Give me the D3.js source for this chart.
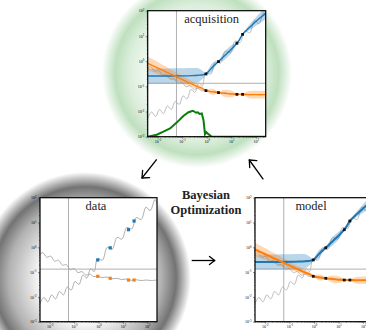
<!DOCTYPE html>
<html>
<head>
<meta charset="utf-8">
<script src="https://cdn.jsdelivr.net/npm/d3@7"></script>
<style>
  body { margin: 0; background: #fff; }
  svg { display: block; }
</style>
</head>
<body>
<svg id="chart" width="366" height="330"></svg>
<script>
// all values are log10 exponents
const xTicks = [-2, -1, 0, 1, 2];
const yTicks = [-3, -2, -1, 0, 1, 2];
const xRefLog = -1.23;
const yRefLog = -0.88;

// true functions (gray)
const grayFallX = [-2.40, -2.28, -2.12, -1.96, -1.80, -1.64, -1.48, -1.32, -1.16, -1.00, -0.84, -0.68, -0.52, -0.36, -0.20, -0.03, 0.15, 0.35, 0.55, 0.75, 0.95, 1.15, 1.35, 1.55, 1.75, 1.95, 2.15, 2.40];
const grayFallY = [-0.28, -0.22, -0.40, -0.36, -0.56, -0.52, -0.72, -0.70, -0.90, -0.86, -1.02, -0.98, -1.12, -1.08, -1.18, -1.17, -1.22, -1.20, -1.27, -1.25, -1.30, -1.28, -1.33, -1.31, -1.34, -1.32, -1.34, -1.32];
const grayRiseX = [-2.40, -2.24, -2.08, -1.92, -1.76, -1.60, -1.44, -1.28, -1.12, -0.96, -0.80, -0.64, -0.48, -0.32, -0.18, -0.04, 0.16, 0.36, 0.56, 0.76, 0.96, 1.16, 1.36, 1.55, 1.75, 1.95, 2.12, 2.32, 2.40];
const grayRiseY = [-2.28, -2.02, -2.20, -1.92, -2.08, -1.78, -1.92, -1.60, -1.72, -1.38, -1.50, -1.12, -1.24, -0.86, -0.98, -0.45, -0.52, 0.00, -0.08, 0.40, 0.33, 0.80, 0.74, 1.20, 1.12, 1.62, 1.48, 1.93, 1.75];

// observations
const obsX = [-0.03, 0.48, 1.23, 1.46];
const obsBlue = [-0.51, -0.02, 0.71, 1.06];
const obsOrange = [-1.17, -1.25, -1.32, -1.32];

// GP model: blue objective
const blueX = [-2.40, -1.50, -1.00, -0.60, -0.35, -0.15, -0.03, 0.10, 0.25, 0.48, 0.65, 0.85, 1.05, 1.23, 1.35, 1.46, 1.70, 1.90, 2.15, 2.40];
const blueMean = [-0.59, -0.59, -0.585, -0.575, -0.56, -0.54, -0.51, -0.38, -0.22, -0.02, 0.14, 0.33, 0.52, 0.71, 0.88, 1.06, 1.30, 1.48, 1.70, 1.90];
const blueHalf = [0.30, 0.30, 0.30, 0.30, 0.28, 0.15, 0.02, 0.12, 0.15, 0.02, 0.14, 0.17, 0.14, 0.02, 0.07, 0.02, 0.10, 0.15, 0.20, 0.24];

// GP model: orange objective
const orangeX = [-2.40, -1.80, -1.245, -0.80, -0.40, -0.15, -0.03, 0.12, 0.25, 0.38, 0.48, 0.65, 0.85, 1.05, 1.23, 1.35, 1.46, 1.70, 2.10, 2.40];
const orangeMean = [-0.09, -0.36, -0.62, -0.82, -1.00, -1.10, -1.17, -1.20, -1.22, -1.24, -1.25, -1.27, -1.29, -1.31, -1.32, -1.32, -1.32, -1.33, -1.33, -1.33];
const orangeHalf = [0.27, 0.22, 0.18, 0.14, 0.10, 0.07, 0.02, 0.10, 0.12, 0.08, 0.02, 0.12, 0.15, 0.12, 0.02, 0.04, 0.02, 0.13, 0.15, 0.15];

// acquisition function (green)
const acqX = [-2.40, -2.03, -1.76, -1.49, -1.22, -0.95, -0.74, -0.62, -0.56, -0.48, -0.43, -0.36, -0.29, -0.20, -0.13, -0.07, -0.02, 0.07, 0.21, 2.40];
const acqY = [-3.00, -2.92, -2.80, -2.67, -2.44, -2.18, -2.03, -1.99, -1.97, -2.02, -2.05, -2.03, -2.10, -2.08, -2.34, -2.90, -2.82, -2.90, -3.00, -3.00];

const svg = d3.select("#chart");
const defs = svg.append("defs");

function glow(id, cx, cy, r, color, peak) {
  const g = defs.append("radialGradient").attr("id", id);
  g.append("stop").attr("offset", "0%").attr("stop-color", color).attr("stop-opacity", 0);
  g.append("stop").attr("offset", "40%").attr("stop-color", color).attr("stop-opacity", 0);
  g.append("stop").attr("offset", "72%").attr("stop-color", color).attr("stop-opacity", peak * 0.55);
  g.append("stop").attr("offset", "86%").attr("stop-color", color).attr("stop-opacity", peak);
  g.append("stop").attr("offset", "100%").attr("stop-color", color).attr("stop-opacity", 0);
  svg.append("circle").attr("cx", cx).attr("cy", cy).attr("r", r).attr("fill", `url(#${id})`);
}
glow("gGreen", 197, 73, 95, "rgb(60,160,60)", 0.33);
glow("gGray", 85, 278, 106, "rgb(0,0,0)", 0.55);

const pts = (xs, ys) => xs.map((v, i) => [10 ** v, 10 ** ys[i]]);

function panel(id, left, top, w, h, opts) {
  const x = d3.scaleLog().domain([10 ** -2.4, 10 ** 2.4]).range([0, w]);
  const y = d3.scaleLog().domain([1e-3, 1e2]).range([h, 0]);
  const g = svg.append("g").attr("transform", `translate(${left},${top})`);
  defs.append("clipPath").attr("id", "clip-" + id)
    .append("rect").attr("width", w).attr("height", h);
  g.append("rect").attr("width", w).attr("height", h).attr("fill", "#fff");

  const plot = g.append("g").attr("clip-path", `url(#clip-${id})`);
  const line = d3.line().x(d => x(d[0])).y(d => y(d[1])).curve(d3.curveCatmullRom);

  plot.append("line").attr("x1", x(10 ** xRefLog)).attr("x2", x(10 ** xRefLog))
    .attr("y1", 0).attr("y2", h).attr("stroke", "#b0b0b0").attr("stroke-width", 1);
  plot.append("line").attr("x1", 0).attr("x2", w)
    .attr("y1", y(10 ** yRefLog)).attr("y2", y(10 ** yRefLog)).attr("stroke", "#b0b0b0").attr("stroke-width", 1);

  [pts(grayFallX, grayFallY), pts(grayRiseX, grayRiseY)].forEach(p => {
    plot.append("path").attr("d", line(p)).attr("fill", "none")
      .attr("stroke", opts.gp ? "#b5b5b5" : "#a5a5a5").attr("stroke-width", 0.9);
  });

  if (opts.gp) {
    const area = d3.area().x(d => x(d[0])).y0(d => y(d[1])).y1(d => y(d[2])).curve(d3.curveCatmullRom);
    const band = (xs, m, hw) => xs.map((v, i) => [10 ** v, 10 ** (m[i] - hw[i]), 10 ** (m[i] + hw[i])]);
    plot.append("path").attr("d", area(band(blueX, blueMean, blueHalf)))
      .attr("fill", "#1f77b4").attr("fill-opacity", 0.3);
    plot.append("path").attr("d", area(band(orangeX, orangeMean, orangeHalf)))
      .attr("fill", "#ff7f0e").attr("fill-opacity", 0.3);
    plot.append("path").attr("d", line(pts(blueX, blueMean))).attr("fill", "none")
      .attr("stroke", "#1f77b4").attr("stroke-width", opts.lw);
    plot.append("path").attr("d", line(pts(orangeX, orangeMean))).attr("fill", "none")
      .attr("stroke", "#ff7f0e").attr("stroke-width", opts.lw);
    [obsBlue, obsOrange].forEach(ys => {
      plot.selectAll(null).data(pts(obsX, ys)).enter().append("rect")
        .attr("x", d => x(d[0]) - 1.4).attr("y", d => y(d[1]) - 1.4)
        .attr("width", 2.8).attr("height", 2.8).attr("fill", "#111");
    });
  } else {
    [[obsBlue, "#1f77b4"], [obsOrange, "#ff7f0e"]].forEach(([ys, c]) => {
      plot.selectAll(null).data(pts(obsX, ys)).enter().append("rect")
        .attr("x", d => x(d[0]) - 1.6).attr("y", d => y(d[1]) - 1.6)
        .attr("width", 3.2).attr("height", 3.2).attr("fill", c);
    });
  }

  if (opts.acq) {
    plot.append("path").attr("d", d3.line().x(d => x(d[0])).y(d => y(d[1]))(pts(acqX, acqY)))
      .attr("fill", "none").attr("stroke", "#0a7d0a").attr("stroke-width", 2);
  }

  // axes
  const minor = [];
  for (let e = -3; e < 3; e++) for (let k = 2; k < 10; k++) minor.push(k * 10 ** e);
  const fmt = sel => {
    sel.selectAll(".tick text").text(null).each(function (d) {
      const t = d3.select(this);
      t.append("tspan").text("10");
      t.append("tspan").attr("dy", -1.4).attr("font-size", 3).text(Math.round(Math.log10(d)));
    });
  };
  const xMinor = minor.filter(v => v > x.domain()[0] && v < x.domain()[1]);
  g.append("g").attr("transform", `translate(0,${h})`)
    .call(d3.axisBottom(x).tickValues(xMinor).tickSize(1).tickFormat(""))
    .call(s => s.select(".domain").remove());
  g.append("g").call(d3.axisLeft(y).tickValues(minor.filter(v => v < 100)).tickSize(1).tickFormat(""))
    .call(s => s.select(".domain").remove());
  g.append("g").attr("transform", `translate(0,${h})`)
    .call(d3.axisBottom(x).tickValues(xTicks.map(e => 10 ** e)).tickSize(2).tickPadding(1))
    .call(s => s.select(".domain").remove())
    .call(s => s.selectAll("text").attr("font-size", 4).attr("font-family", "Liberation Serif"))
    .call(fmt);
  g.append("g")
    .call(d3.axisLeft(y).tickValues(yTicks.map(e => 10 ** e)).tickSize(2).tickPadding(1.5))
    .call(s => s.select(".domain").remove())
    .call(s => s.selectAll("text").attr("font-size", 4).attr("font-family", "Liberation Serif"))
    .call(fmt);
  g.selectAll(".tick line").attr("stroke", "#222").attr("stroke-width", 0.5);

  g.append("rect").attr("width", w).attr("height", h).attr("fill", "none")
    .attr("stroke", "#000").attr("stroke-width", 1.2);

  g.append("text").attr("x", opts.labelX).attr("y", 12.6).attr("text-anchor", "middle")
    .attr("font-family", "Liberation Serif").attr("font-size", 12.5).attr("fill", "#222")
    .text(opts.label);
}

panel("acq", 147.7, 10.7, 118, 126, { gp: true, acq: true, lw: 1.4, label: "acquisition", labelX: 64 });
panel("data", 40, 197.7, 117, 124, { gp: false, label: "data", labelX: 56 });
panel("model", 255, 197.7, 118, 124, { gp: true, lw: 2.1, label: "model", labelX: 56 });

// cycle arrows
const arrows = [
  { tail: [156.7, 159.3], tip: [142, 178], heads: [[142.6, 170.5], [149.6, 177.6]] },
  { tail: [263.3, 179.3], tip: [249.3, 160], heads: [[249.7, 167.5], [256.8, 160.6]] },
  { tail: [191.7, 260.5], tip: [214.7, 260.5], heads: [[209.5, 256.5], [209.5, 264.5]] }
];
arrows.forEach(a => {
  svg.append("line").attr("x1", a.tail[0]).attr("y1", a.tail[1]).attr("x2", a.tip[0]).attr("y2", a.tip[1])
    .attr("stroke", "#000").attr("stroke-width", 1.3);
  a.heads.forEach(hp => svg.append("line").attr("x1", a.tip[0]).attr("y1", a.tip[1])
    .attr("x2", hp[0]).attr("y2", hp[1]).attr("stroke", "#000").attr("stroke-width", 1.3)
    .attr("stroke-linecap", "round"));
});

const title = svg.append("text").attr("text-anchor", "middle")
  .attr("font-family", "Liberation Serif").attr("font-weight", "bold").attr("font-size", 12.5).attr("fill", "#222");
title.append("tspan").attr("x", 206).attr("y", 198.5).text("Bayesian");
title.append("tspan").attr("x", 206).attr("y", 214).text("Optimization");
</script>
</body>
</html>
